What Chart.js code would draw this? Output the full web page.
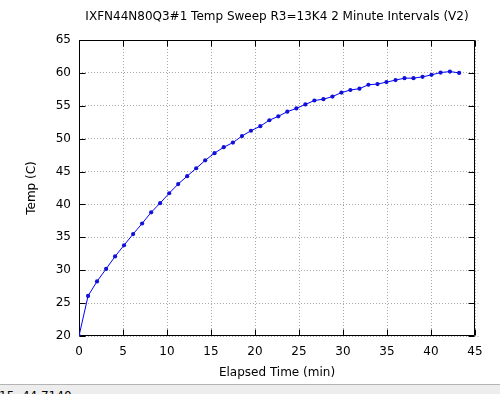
<!DOCTYPE html>
<html>
<head>
<meta charset="utf-8">
<script src="https://cdn.jsdelivr.net/npm/chart.js@4"></script>
<style>
  html, body { margin: 0; background: #fff; overflow: hidden; width: 500px; height: 394px; }
  #wrap { position: absolute; left: 0; top: 0; width: 490px; height: 384px; overflow: hidden; }
  #chart { display: block; }
  #status { position: absolute; left: 0; top: 384px; width: 500px; height: 9px; overflow: hidden;
            background: #ededed; border-top: 1px solid #b4b4b4; font: 12px "DejaVu Sans"; line-height: 14px; color: #000; }
  #status span { position: relative; top: 4px; left: -1px; }
</style>
</head>
<body>
<div id="wrap"><canvas id="chart" width="500" height="385"></canvas></div>
<div id="status"><span>15, 44.7140</span></div>
<script>
const chartTitle = 'IXFN44N80Q3#1 Temp Sweep R3=13K4 2 Minute Intervals (V2)';
const xTitle = 'Elapsed Time (min)';
const yTitle = 'Temp (C)';

// elapsed time per sample (min)
const elapsedMin = [0, 1.03, 2.05, 3.08, 4.10, 5.12, 6.15, 7.17, 8.20, 9.22,
  10.25, 11.27, 12.29, 13.32, 14.34, 15.40, 16.45, 17.49, 18.52, 19.54,
  20.60, 21.63, 22.65, 23.67, 24.70, 25.72, 26.75, 27.77, 28.80, 29.82,
  30.84, 31.87, 32.89, 33.92, 34.94, 35.97, 36.99, 38.01, 39.04, 40.06,
  41.09, 42.15, 43.20];
// temperature (C)
const tempC = [20, 26.1, 28.3, 30.2, 32.1, 33.8, 35.5, 37.1, 38.8, 40.2,
  41.7, 43.1, 44.3, 45.5, 46.7, 47.8, 48.7, 49.4, 50.4, 51.2,
  51.9, 52.8, 53.4, 54.1, 54.6, 55.2, 55.8, 56.0, 56.4, 57.0,
  57.4, 57.6, 58.2, 58.3, 58.6, 58.9, 59.2, 59.2, 59.4, 59.7,
  60.05, 60.2, 60.0];

const font = { family: '"DejaVu Sans"', size: 12 };

// box, inward tick marks and text, gnuplot style
const frame = {
  id: 'frame',
  beforeDatasetsDraw(chart) {
    const { ctx, chartArea: a, scales: { x, y } } = chart;
    const L = Math.round(a.left) + 0.5, R = Math.round(a.right) - 0.5;
    const T = Math.round(a.top) + 0.5, B = Math.round(a.bottom) - 0.5;
    ctx.save();
    // grid stubs poking out past the right border
    ctx.strokeStyle = '#a8a8a8';
    ctx.setLineDash([1, 2]);
    ctx.beginPath();
    y.ticks.forEach(t => {
      const py = Math.round(y.getPixelForValue(t.value)) + 0.5;
      ctx.moveTo(R, py); ctx.lineTo(R + 6, py);
    });
    ctx.stroke();
    ctx.setLineDash([]);
    ctx.strokeStyle = '#000';
    ctx.lineWidth = 1;
    ctx.beginPath();
    ctx.rect(L, T, R - L, B - T);
    x.ticks.forEach(t => {
      const px = Math.round(x.getPixelForValue(t.value)) + 0.5;
      ctx.moveTo(px, B); ctx.lineTo(px, B - 6);
      ctx.moveTo(px, T); ctx.lineTo(px, T + 6);
    });
    y.ticks.forEach(t => {
      const py = Math.round(y.getPixelForValue(t.value)) + 0.5;
      ctx.moveTo(L, py); ctx.lineTo(L + 6, py);
      ctx.moveTo(R, py); ctx.lineTo(R - 6, py);
    });
    ctx.stroke();
    ctx.restore();
  },
  afterDraw(chart) {
    const { ctx, chartArea: a } = chart;
    const cx = (a.left + a.right) / 2;
    ctx.save();
    ctx.fillStyle = '#000';
    ctx.font = '12px "DejaVu Sans"';
    ctx.textAlign = 'center';
    ctx.textBaseline = 'middle';
    ctx.fillText(chartTitle, cx, 17);
    ctx.fillText(xTitle, cx, 373);
    ctx.translate(32, (a.top + a.bottom) / 2);
    ctx.rotate(-Math.PI / 2);
    ctx.fillText(yTitle, 0, 0);
    ctx.restore();
  }
};

new Chart(document.getElementById('chart'), {
  type: 'scatter',
  data: {
    datasets: [{
      data: elapsedMin.map((t, i) => ({ x: t, y: tempC[i] })),
      showLine: true,
      borderColor: '#0000ff',
      borderWidth: 1,
      backgroundColor: '#1010d8',
      pointBorderColor: '#1010d8',
      pointRadius: 2.1,
      pointBorderWidth: 0
    }]
  },
  options: {
    responsive: false,
    animation: false,
    devicePixelRatio: 1,
    layout: { padding: { top: 40, right: 25, left: 0, bottom: 0 } },
    plugins: { legend: { display: false }, tooltip: { enabled: false }, title: { display: false } },
    scales: {
      x: {
        type: 'linear', min: 0, max: 45,
        ticks: { stepSize: 5, font, color: '#000', padding: 9, maxRotation: 0 },
        grid: { color: '#a8a8a8', drawTicks: false },
        border: { display: false, dash: [1, 2] },
        afterFit: s => { s.height = 49; }
      },
      y: {
        type: 'linear', min: 20, max: 65,
        ticks: { stepSize: 5, font, color: '#000', padding: 8 },
        grid: { color: '#a8a8a8', drawTicks: false },
        border: { display: false, dash: [1, 2] },
        afterFit: s => { s.width = 79; }
      }
    }
  },
  plugins: [frame]
});
</script>
</body>
</html>
